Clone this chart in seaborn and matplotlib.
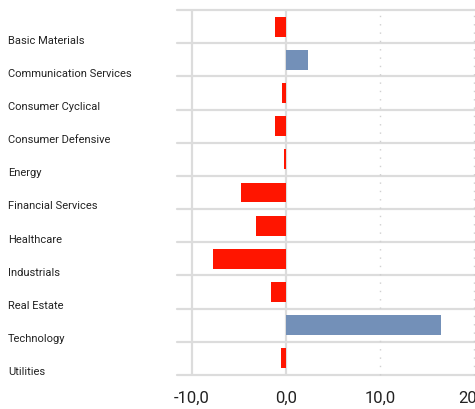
import numpy as np
import pandas as pd
import matplotlib
matplotlib.use("Agg")
import matplotlib.pyplot as plt
import matplotlib.transforms as mtransforms
import seaborn as sns

# data
sectors = ["Basic Materials", "Communication Services", "Consumer Cyclical",
           "Consumer Defensive", "Energy", "Financial Services", "Healthcare",
           "Industrials", "Real Estate", "Technology", "Utilities"]
values = [-1.15, 2.3, -0.4, -1.15, -0.25, -4.8, -3.2, -7.8, -1.6, 16.5, -0.5]
xticks = [-10, 0, 10, 20]
xtick_labels = ["-10,0", "0,0", "10,0", "20,0"]

pos_color = "#7390B8"
neg_color = "#FF1500"
grid_color = "#DCDCDC"

sns.set_style("white")
plt.rcParams["font.family"] = ["Roboto", "DejaVu Sans"]

df = pd.DataFrame({"sector": sectors, "value": values})
colors = [pos_color if v > 0 else neg_color for v in values]

fig = plt.figure(figsize=(4.75, 4.10), dpi=100)
ax = fig.add_axes([177 / 475, 34 / 410, 298 / 475, 365 / 410])

sns.barplot(data=df, x="value", y="sector", hue="sector", palette=colors,
            orient="h", width=0.6, legend=False, saturation=1,
            linewidth=0, ax=ax)
for bar in ax.patches:
    bar.set_zorder(3)

n = len(sectors)
ax.set_ylim(n - 0.5, -0.5)
ax.set_xlim(-11.6, 20.1)

# horizontal band lines
for b in np.arange(-0.5, n, 1.0):
    ax.axhline(b, color=grid_color, lw=1.6, zorder=0, clip_on=False)

# vertical lines: solid at -10 and 0, dotted at 10 and 20
for xv in xticks:
    if xv <= 0:
        ax.axvline(xv, color=grid_color, lw=1.6, zorder=1)
    else:
        ax.axvline(xv, color="#D0D0D0", lw=1.0, ls=(0, (1, 5)), zorder=1,
                   clip_on=False)

for s in ax.spines.values():
    s.set_visible(False)

ax.set_xticks(xticks)
ax.set_xticklabels(xtick_labels)
ax.tick_params(axis="x", direction="out", length=8.5, width=1.6,
               color=grid_color, labelsize=12, labelcolor="#222222", pad=2)
ax.set_yticks([])
ax.set_xlabel("")
ax.set_ylabel("")

# category labels, left aligned, sitting a bit below each band centre
trans = mtransforms.blended_transform_factory(fig.transFigure, ax.transData)
trans = trans + mtransforms.ScaledTranslation(0, -13 / 100, fig.dpi_scale_trans)
for i, name in enumerate(sectors):
    ax.text(8 / 475, i, name, transform=trans, ha="left", va="center",
            fontsize=8, color="#222222")

fig.savefig("out.png", dpi=100)
